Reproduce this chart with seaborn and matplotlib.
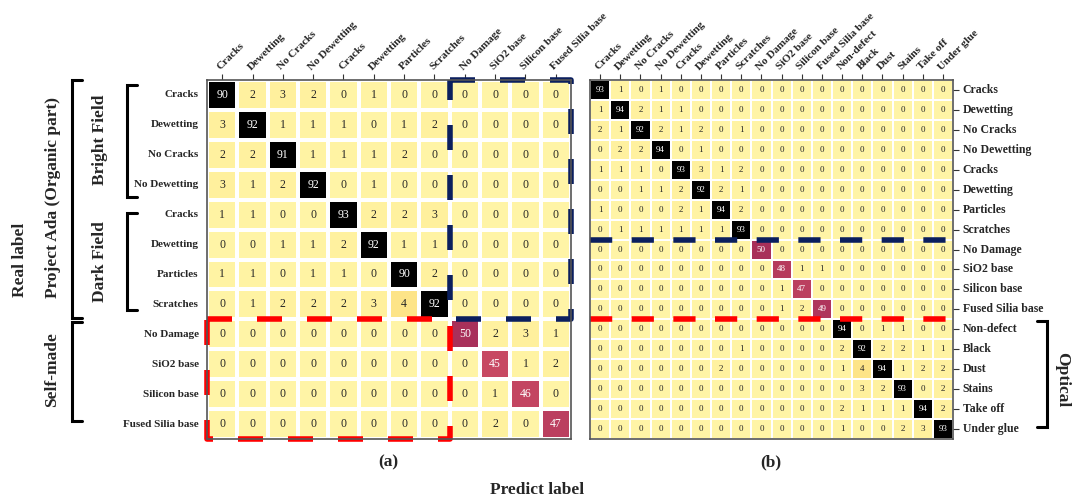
import numpy as np
import pandas as pd
import matplotlib
matplotlib.use("Agg")
import matplotlib.pyplot as plt
import seaborn as sns
from matplotlib.colors import LinearSegmentedColormap
from matplotlib import transforms

# ---------------- data ----------------
labels_a = ["Cracks", "Dewetting", "No Cracks", "No Dewetting", "Cracks", "Dewetting",
            "Particles", "Scratches", "No Damage", "SiO2 base", "Silicon base", "Fused Silia base"]
optical_labels = ["Non-defect", "Black", "Dust", "Stains", "Take off", "Under glue"]
labels_b = labels_a + optical_labels

cm_a = [
    [90, 2, 3, 2, 0, 1, 0, 0, 0, 0, 0, 0],
    [3, 92, 1, 1, 1, 0, 1, 2, 0, 0, 0, 0],
    [2, 2, 91, 1, 1, 1, 2, 0, 0, 0, 0, 0],
    [3, 1, 2, 92, 0, 1, 0, 0, 0, 0, 0, 0],
    [1, 1, 0, 0, 93, 2, 2, 3, 0, 0, 0, 0],
    [0, 0, 1, 1, 2, 92, 1, 1, 0, 0, 0, 0],
    [1, 1, 0, 1, 1, 0, 90, 2, 0, 0, 0, 0],
    [0, 1, 2, 2, 2, 3, 4, 92, 0, 0, 0, 0],
    [0, 0, 0, 0, 0, 0, 0, 0, 50, 2, 3, 1],
    [0, 0, 0, 0, 0, 0, 0, 0, 0, 45, 1, 2],
    [0, 0, 0, 0, 0, 0, 0, 0, 0, 1, 46, 0],
    [0, 0, 0, 0, 0, 0, 0, 0, 0, 2, 0, 47],
]

cm_b = [
    [93, 1, 0, 1, 0, 0, 0, 0, 0, 0, 0, 0, 0, 0, 0, 0, 0, 0],
    [1, 94, 2, 1, 1, 0, 0, 0, 0, 0, 0, 0, 0, 0, 0, 0, 0, 0],
    [2, 1, 92, 2, 1, 2, 0, 1, 0, 0, 0, 0, 0, 0, 0, 0, 0, 0],
    [0, 2, 2, 94, 0, 1, 0, 0, 0, 0, 0, 0, 0, 0, 0, 0, 0, 0],
    [1, 1, 1, 0, 93, 3, 1, 2, 0, 0, 0, 0, 0, 0, 0, 0, 0, 0],
    [0, 0, 1, 1, 2, 92, 2, 1, 0, 0, 0, 0, 0, 0, 0, 0, 0, 0],
    [1, 0, 0, 0, 2, 1, 94, 2, 0, 0, 0, 0, 0, 0, 0, 0, 0, 0],
    [0, 1, 1, 1, 1, 1, 1, 93, 0, 0, 0, 0, 0, 0, 0, 0, 0, 0],
    [0, 0, 0, 0, 0, 0, 0, 0, 50, 0, 0, 0, 0, 0, 0, 0, 0, 0],
    [0, 0, 0, 0, 0, 0, 0, 0, 0, 48, 1, 1, 0, 0, 0, 0, 0, 0],
    [0, 0, 0, 0, 0, 0, 0, 0, 0, 1, 47, 0, 0, 0, 0, 0, 0, 0],
    [0, 0, 0, 0, 0, 0, 0, 0, 0, 1, 2, 49, 0, 0, 0, 0, 0, 0],
    [0, 0, 0, 0, 0, 0, 0, 0, 0, 0, 0, 0, 94, 0, 1, 1, 0, 0],
    [0, 0, 0, 0, 0, 0, 0, 1, 0, 0, 0, 0, 2, 92, 2, 2, 1, 1],
    [0, 0, 0, 0, 0, 0, 2, 0, 0, 0, 0, 0, 1, 4, 94, 1, 2, 2],
    [0, 0, 0, 0, 0, 0, 0, 0, 0, 0, 0, 0, 0, 3, 2, 93, 0, 2],
    [0, 0, 0, 0, 0, 0, 0, 0, 0, 0, 0, 0, 2, 1, 1, 1, 94, 2],
    [0, 0, 0, 0, 0, 0, 0, 0, 0, 0, 0, 0, 1, 0, 0, 2, 3, 93],
]

# ---------------- style ----------------
sns.set_style("white")
plt.rcParams["font.family"] = ["Liberation Serif", "DejaVu Serif"]

cmap = LinearSegmentedColormap.from_list(
    "cm", [(0.0, "#FFF4A6"), (0.03, "#FFF09C"), (0.04, "#FDE386"), (0.45, "#C84A62"),
           (0.50, "#A9305A"), (0.88, "#000000"), (1.0, "#000000")])

W, H = 1074, 500
fig = plt.figure(figsize=(W / 100, H / 100), dpi=100)
axa = fig.add_axes([207 / W, 1 - 439 / H, 364 / W, 359 / H])
axb = fig.add_axes([590 / W, 1 - 439 / H, 363 / W, 359 / H])

dfa = pd.DataFrame(cm_a)
dfb = pd.DataFrame(cm_b)

sns.heatmap(dfa, ax=axa, cmap=cmap, vmin=0, vmax=100, annot=True, fmt="d", cbar=False,
            linewidths=1.6, linecolor="white", xticklabels=labels_a, yticklabels=labels_a,
            annot_kws=dict(fontsize=8.5))
sns.heatmap(dfb, ax=axb, cmap=cmap, vmin=0, vmax=100, annot=True, fmt="d", cbar=False,
            linewidths=1.3, linecolor="white", xticklabels=labels_b, yticklabels=labels_b,
            annot_kws=dict(fontsize=6.5))

axb.yaxis.tick_right()
for ax in (axa, axb):
    for s in ax.spines.values():
        s.set_visible(True)
        s.set_color("#555555")
        s.set_linewidth(1.2)
    ax.xaxis.tick_top()
    ax.tick_params(axis="both", length=4, width=0.8, color="#333333", pad=2)
    ax.tick_params(axis="y", labelrotation=0)
    for tk in ax.xaxis.get_major_ticks():
        for t in (tk.label1, tk.label2):
            t.set_rotation(45)
            t.set_ha("left")
            t.set_va("bottom")
            t.set_rotation_mode("anchor")
            t.set_fontweight("bold")
            t.set_fontsize(8)

for tk in axa.yaxis.get_major_ticks():
    for t in (tk.label1, tk.label2):
        t.set_rotation(0)
        t.set_fontweight("bold")
        t.set_fontsize(8)
for tk in axb.yaxis.get_major_ticks():
    for t in (tk.label1, tk.label2):
        t.set_rotation(0)
        t.set_fontweight("bold")
        t.set_fontsize(8.5)
        t.set_va("center")
    tk.label2.set_ha("left")
axb.tick_params(axis="y", pad=3)

# ---------------- dashed blocks ----------------
navy = "#0B1F5E"
red = "#FF0000"
dash = dict(lw=4, clip_on=False, solid_capstyle="butt", dash_capstyle="butt")
axa.plot([8, 12, 12, 8, 8], [0, 0, 8, 8, 0], color=navy, ls=(0, (4.5, 4.5)), **dash)
axa.plot([0, 8, 8, 0, 0], [8, 8, 12, 12, 8], color=red, ls=(0, (4.5, 4.5)), **dash)
axb.plot([0, 18], [8, 8], color=navy, ls=(0, (4, 3.5)), **dash)
axb.plot([0, 18], [12, 12], color=red, ls=(0, (4, 3.5)), **dash)

# ---------------- brackets ----------------
def bracket(ax, xpix, y0, y1, tick_pix, lw=2.2):
    tr = transforms.blended_transform_factory(fig.transFigure, ax.transData)
    x = xpix / W
    xt = (xpix + tick_pix) / W
    ax.plot([xt, x, x, xt], [y0, y0, y1, y1], color="black", lw=lw, transform=tr,
            clip_on=False, solid_joinstyle="miter")

bracket(axa, 72, 0.0, 7.95, 10)
bracket(axa, 127, 0.18, 3.9, 10)
bracket(axa, 127, 4.45, 7.7, 10)
bracket(axa, 72, 8.1, 11.4, 10)
bracket(axb, 1047, 12.1, 17.4, -10)

def vtext(x, y, s, rot=90, size=12.5):
    fig.text(x / W, 1 - y / H, s, rotation=rot, ha="center", va="center",
             fontsize=size, fontweight="bold")

vtext(20, 260, "Real label")
vtext(53, 198, "Project Ada (Organic part)")
vtext(100, 140, "Bright Field")
vtext(100, 262, "Dark Field")
vtext(52, 370, "Self-made")
vtext(1062, 380, "Optical", rot=-90)

fig.text(388 / W, 1 - 462 / H, "(a)", ha="center", va="center", fontsize=12.5, fontweight="bold")
fig.text(771 / W, 1 - 462 / H, "(b)", ha="center", va="center", fontsize=12.5, fontweight="bold")
fig.text(537 / W, 1 - 490 / H, "Predict label", ha="center", va="center", fontsize=12.5,
         fontweight="bold")

fig.savefig("out.png", dpi=100, facecolor="white")
